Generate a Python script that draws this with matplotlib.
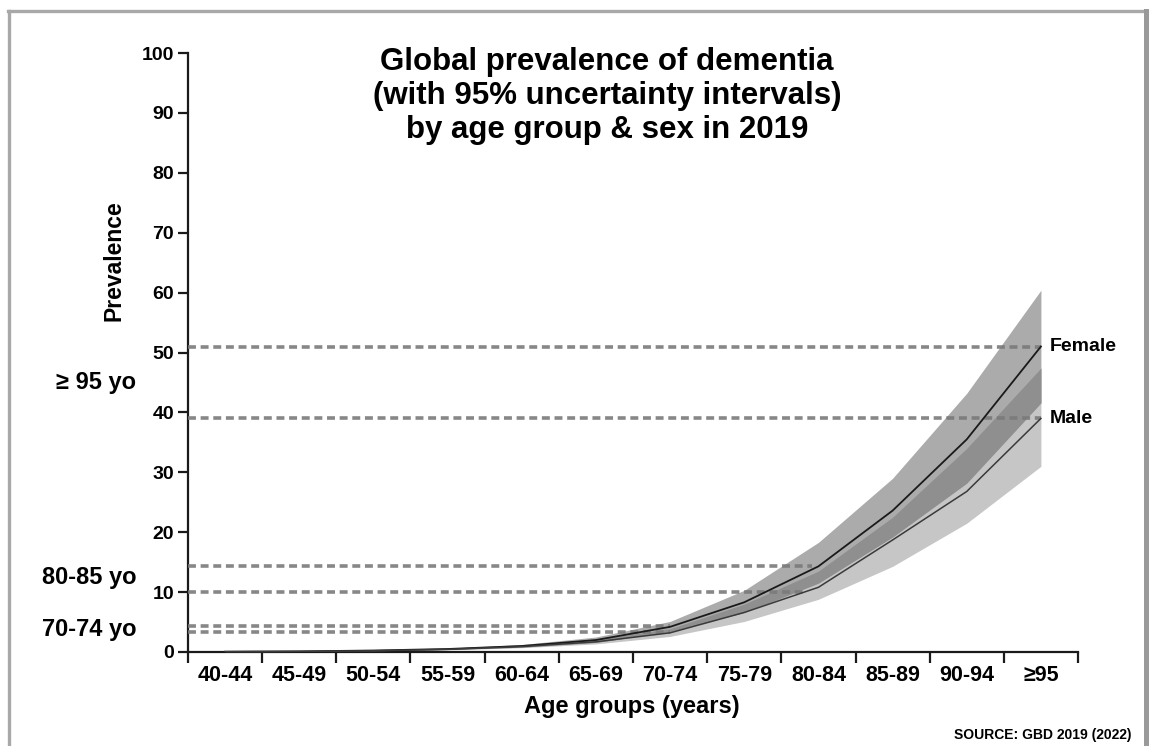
import matplotlib
matplotlib.use("Agg")
import matplotlib.pyplot as plt
from matplotlib.lines import Line2D
import numpy as np

# ---------------- data ----------------
ages = ['40-44', '45-49', '50-54', '55-59', '60-64', '65-69', '70-74',
        '75-79', '80-84', '85-89', '90-94', '≥95']
female = [0.05, 0.10, 0.25, 0.50, 1.0, 2.0, 4.2, 8.3, 14.3, 23.6, 35.5, 51.0]
female_lo = [0.04, 0.08, 0.20, 0.40, 0.8, 1.6, 3.4, 6.6, 11.5, 19.2, 28.2, 41.6]
female_hi = [0.07, 0.13, 0.31, 0.62, 1.25, 2.5, 5.1, 10.3, 18.3, 29.0, 43.2, 60.4]
male = [0.05, 0.09, 0.20, 0.45, 0.9, 1.7, 3.2, 6.6, 10.8, 18.7, 26.8, 39.0]
male_lo = [0.04, 0.07, 0.16, 0.36, 0.72, 1.35, 2.6, 5.1, 8.8, 14.3, 21.5, 31.0]
male_hi = [0.06, 0.11, 0.25, 0.55, 1.1, 2.1, 3.9, 8.0, 13.5, 22.5, 34.0, 47.4]

ref_levels = [51.0, 39.0, 14.3, 10.0, 4.3, 3.3]
ref_end_group = ['≥95', '≥95', '80-84', '80-84', '70-74', '70-74']
ref_end_offset = [0.0, 0.0, -0.08, -0.15, 0.0, 0.0]

side_labels = ['≥ 95 yo', '80-85 yo', '70-74 yo']
side_label_y = [45.0, 12.5, 3.8]

yticks = list(range(0, 101, 10))

# ---------------- figure ----------------
W, H = 1149, 746
fig = plt.figure(figsize=(W / 100, H / 100), dpi=100)
ax = fig.add_axes([188 / W, 1 - 652 / H, (1078 - 188) / W, (652 - 53) / H])

x = np.arange(len(ages))
fl, fh = np.array(female_lo), np.array(female_hi)
ml, mh = np.array(male_lo), np.array(male_hi)

# bands
ax.fill_between(x, ml, mh, color='#c6c6c6', lw=0, zorder=1)
ax.fill_between(x, fl, fh, color='#ababab', lw=0, zorder=2)
ov_lo = np.maximum(fl, ml)
ov_hi = np.minimum(fh, mh)
ax.fill_between(x, ov_lo, ov_hi, where=ov_hi > ov_lo, interpolate=True,
                color='#8f8f8f', lw=0, zorder=3)

# reference dashed lines
for lvl, grp, off in zip(ref_levels, ref_end_group, ref_end_offset):
    xe = ages.index(grp) + off
    ax.plot([-0.5, xe], [lvl, lvl], color='#7a7a7a', lw=2.6,
            linestyle=(0, (2.2, 1.3)), alpha=0.9, zorder=4, clip_on=False)

# central lines
ax.plot(x, female, color='#1a1a1a', lw=1.3, zorder=5)
ax.plot(x, male, color='#3a3a3a', lw=1.1, zorder=5)

ax.text(11.12, female[-1], 'Female', fontsize=14, fontweight='bold',
        family='Liberation Sans', va='center', ha='left')
ax.text(11.12, male[-1], 'Male', fontsize=14, fontweight='bold',
        family='Liberation Sans', va='center', ha='left')

# axes styling
ax.set_xlim(-0.5, len(ages) - 0.5)
ax.set_ylim(0, 100)
for s in ['top', 'right']:
    ax.spines[s].set_visible(False)
for s in ['left', 'bottom']:
    ax.spines[s].set_linewidth(1.6)
    ax.spines[s].set_color('#1a1a1a')

ax.set_yticks(yticks)
ax.set_yticklabels([str(t) for t in yticks], family='Liberation Sans',
                   fontweight='bold', fontsize=14)
ax.tick_params(axis='y', length=7, width=1.6, pad=3, color='#1a1a1a')

ax.set_xticks(np.arange(-0.5, len(ages), 1.0))
ax.set_xticklabels([])
ax.tick_params(axis='x', length=8, width=1.6, color='#1a1a1a')
for i, a in enumerate(ages):
    ax.text(i, -2.1, a, ha='center', va='top', fontsize=15.5,
            fontweight='bold', family='Liberation Sans',
            transform=ax.transData, clip_on=False)

ax.set_ylabel('Prevalence', family='Liberation Sans', fontweight='bold',
              fontsize=16.5, labelpad=0)
ax.yaxis.set_label_coords(-62 / 890, (652 - 261) / 599)

fig.text(632 / W, 1 - 707 / H, 'Age groups (years)', ha='center',
         va='center', fontsize=17, fontweight='bold',
         family='Liberation Sans')

fig.text(607 / W, 1 - 47 / H,
         'Global prevalence of dementia\n(with 95% uncertainty intervals)\nby age group & sex in 2019',
         ha='center', va='top', fontsize=22.5, fontweight='bold',
         family='Liberation Sans', linespacing=1.17)

for lab, yv in zip(side_labels, side_label_y):
    ax.text(-(188 - 136) / 74.2 - 0.5, yv, lab, ha='right', va='center',
            fontsize=17, fontweight='bold',
            family=['Liberation Sans', 'DejaVu Sans'], clip_on=False)

fig.text(1131 / W, 1 - 735 / H, 'SOURCE: GBD 2019 (2022)', ha='right',
         va='center', fontsize=10, fontweight='bold',
         family='Liberation Sans')

# screenshot frame
fc = '#a8a8a8'
fig.add_artist(Line2D([8 / W, 1146 / W], [1 - 11 / H, 1 - 11 / H],
                      transform=fig.transFigure, color=fc, lw=2.4))
fig.add_artist(Line2D([8.5 / W, 8.5 / W], [1 - 11 / H, 0],
                      transform=fig.transFigure, color=fc, lw=2.4))
fig.add_artist(Line2D([1145.5 / W, 1145.5 / W], [1 - 11 / H, 0],
                      transform=fig.transFigure, color='#9a9a9a', lw=3.6))

fig.savefig('out.png', dpi=100, facecolor='white')
